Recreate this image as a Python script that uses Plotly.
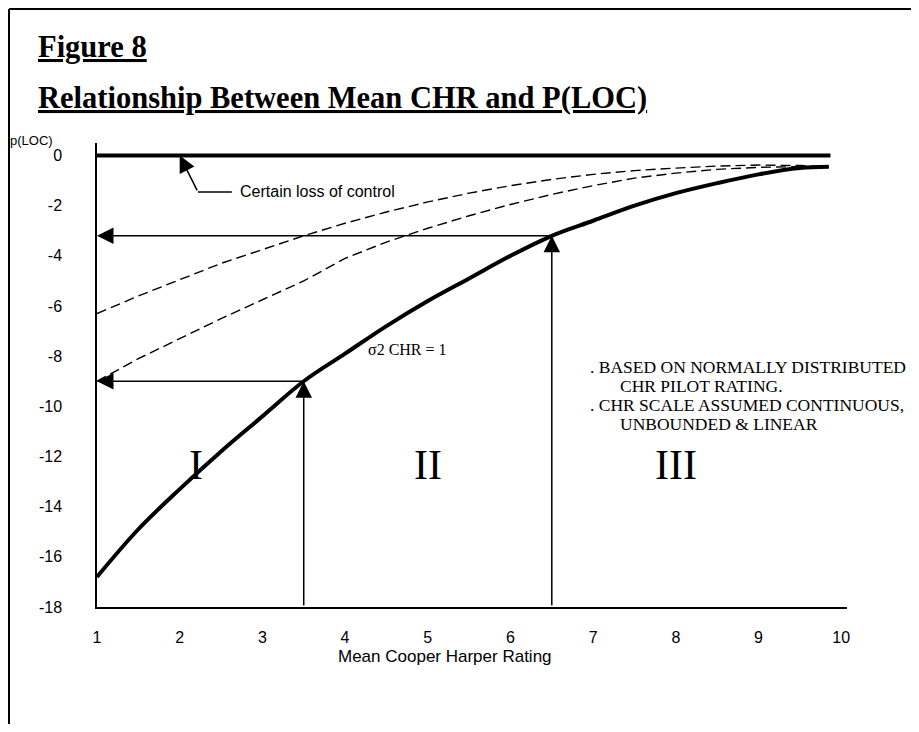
import plotly.graph_objects as go

# ---------------- data ----------------
chr_mean = [1.0, 1.5, 2.0, 2.5, 3.0, 3.5, 4.0, 4.5, 5.0, 5.5, 6.0, 6.5, 7.0, 7.5, 8.0, 8.5, 9.0, 9.5, 9.85]
p_loc_sigma1 = [-16.8, -14.9, -13.3, -11.8, -10.4, -9.0, -7.9, -6.8, -5.8, -4.9, -4.0, -3.2,
                -2.6, -2.0, -1.5, -1.1, -0.75, -0.5, -0.45]
p_loc_dash_upper = [-6.3, -5.6, -4.95, -4.3, -3.75, -3.2, -2.7, -2.25, -1.85, -1.5, -1.2, -0.95,
                    -0.75, -0.6, -0.5, -0.42, -0.38, -0.4, -0.45]
p_loc_dash_lower = [-9.0, -8.1, -7.3, -6.5, -5.75, -5.0, -4.1, -3.45, -2.9, -2.4, -1.95, -1.55,
                    -1.2, -0.9, -0.7, -0.55, -0.47, -0.44, -0.45]
certain_loss_x = [1.0, 9.87]
certain_loss_y = [0.0, 0.0]

boundary_chr = [3.5, 6.5]          # region boundaries
boundary_ploc = [-9.0, -3.2]       # p(LOC) at the boundaries
region_labels = ["I", "II", "III"]
region_label_x = [2.2, 5.0, 8.0]
region_label_y = -12.35

x_ticks = [1, 2, 3, 4, 5, 6, 7, 8, 9, 10]
y_ticks = [0, -2, -4, -6, -8, -10, -12, -14, -16, -18]
y_tick_labels = ["0", "-2", "-4", "-6", "-8", "-10", "-12", "-14", "-16", "-18"]

notes = [". BASED ON NORMALLY DISTRIBUTED", "CHR PILOT RATING.",
         ". CHR SCALE ASSUMED CONTINUOUS,", "UNBOUNDED & LINEAR"]

# ---------------- figure ----------------
OFF = 8                      # page body margin
W, H = 919 - OFF, 732 - 2 * OFF
L, R, T, B = 97 - OFF, 72, 143 - OFF, 125 - OFF
PW, PH = W - L - R, H - T - B

SANS = "Liberation Sans, Arial"
SERIF = "Liberation Serif, Times New Roman"


def px(xp):
    return (xp - OFF - L) / PW


def py(yp):
    return (OFF + T + PH - yp) / PH


fig = go.Figure()

fig.add_trace(go.Scatter(x=certain_loss_x, y=certain_loss_y, mode="lines",
                         line=dict(color="black", width=4), showlegend=False, hoverinfo="skip"))
fig.add_trace(go.Scatter(x=chr_mean, y=p_loc_dash_upper, mode="lines",
                         line=dict(color="black", width=1.4, dash="10px,5px"),
                         showlegend=False, hoverinfo="skip"))
fig.add_trace(go.Scatter(x=chr_mean, y=p_loc_dash_lower, mode="lines",
                         line=dict(color="black", width=1.4, dash="10px,5px"),
                         showlegend=False, hoverinfo="skip"))
fig.add_trace(go.Scatter(x=chr_mean, y=p_loc_sigma1, mode="lines", line_shape="spline",
                         line=dict(color="black", width=4), showlegend=False, hoverinfo="skip"))

ann = []
arrow_style = dict(showarrow=True, arrowhead=2, arrowsize=2.2, arrowwidth=1.5,
                   arrowcolor="black", text="", xref="x", yref="y", axref="x", ayref="y",
                   standoff=0)
for bx, by in zip(boundary_chr, boundary_ploc):
    ann.append(dict(x=bx, y=by, ax=bx, ay=-18, **arrow_style))
    ann.append(dict(x=1.0, y=by, ax=bx, ay=by, **arrow_style))

# "Certain loss of control" leader
ann.append(dict(x=2.0, y=0, ax=2.22, ay=-1.45, **arrow_style))
fig.add_shape(type="line", x0=2.22, y0=-1.45, x1=2.63, y1=-1.45, xref="x", yref="y",
              line=dict(color="black", width=1.5))
ann.append(dict(x=2.7, y=-1.45, xref="x", yref="y", text="Certain loss of control",
                showarrow=False, xanchor="left", yanchor="middle",
                font=dict(family=SANS, size=16, color="black")))

ann.append(dict(x=4.25, y=-7.75, xref="x", yref="y", text="σ2 CHR = 1",
                showarrow=False, xanchor="left", yanchor="middle",
                font=dict(family=SERIF, size=16, color="black")))

for lab, lx in zip(region_labels, region_label_x):
    ann.append(dict(x=lx, y=region_label_y, xref="x", yref="y", text=lab, showarrow=False,
                    xanchor="center", yanchor="middle",
                    font=dict(family=SERIF, size=42, color="black")))

note_x = [588, 618, 588, 618]
note_y = [367, 386, 405, 424]
for t, nx, ny in zip(notes, note_x, note_y):
    ann.append(dict(x=px(nx), y=py(ny), xref="paper", yref="paper", text=t, showarrow=False,
                    xanchor="left", yanchor="middle",
                    font=dict(family=SERIF, size=17.5, color="black")))

# titles
ann.append(dict(x=px(36), y=py(47), xref="paper", yref="paper", text="<b><u>Figure 8</u></b>",
                showarrow=False, xanchor="left", yanchor="middle",
                font=dict(family=SERIF, size=30.5, color="black")))
ann.append(dict(x=px(36), y=py(98), xref="paper", yref="paper",
                text="<b><u>Relationship Between Mean CHR and P(LOC)</u></b>",
                showarrow=False, xanchor="left", yanchor="middle",
                font=dict(family=SERIF, size=30.5, color="black")))
ann.append(dict(x=px(31), y=py(140), xref="paper", yref="paper", text="p(LOC)",
                showarrow=False, xanchor="center", yanchor="middle",
                font=dict(family=SANS, size=13, color="black")))
ann.append(dict(x=px(445), y=py(656), xref="paper", yref="paper", text="Mean Cooper Harper Rating",
                showarrow=False, xanchor="center", yanchor="middle",
                font=dict(family=SANS, size=17, color="black")))

# page frame (top, left, right edges; bottom lies below the page)
fx0, fx1, fy0, fy1 = px(9), px(913), py(740), py(9)
frame = dict(type="line", xref="paper", yref="paper", line=dict(color="black", width=2))
fig.add_shape(x0=fx0, x1=fx1, y0=fy1, y1=fy1, **frame)
fig.add_shape(x0=fx0, x1=fx0, y0=fy0, y1=fy1, **frame)
fig.add_shape(x0=fx1, x1=fx1, y0=fy0, y1=fy1, **frame)

fig.update_layout(
    width=W, height=H, autosize=False,
    margin=dict(l=L, r=R, t=T, b=B),
    paper_bgcolor="white", plot_bgcolor="white",
    annotations=ann,
    xaxis=dict(range=[1, 10.07], tickvals=x_ticks, showgrid=False, zeroline=False,
               showline=True, linecolor="black", linewidth=1.5, ticks="",
               ticklabelstandoff=15,
               tickfont=dict(family=SANS, size=16, color="black")),
    yaxis=dict(range=[-18, 0.5], tickvals=y_ticks, ticktext=y_tick_labels, showgrid=False,
               zeroline=False, showline=True, linecolor="black", linewidth=1.5, ticks="",
               ticklabelstandoff=30,
               tickfont=dict(family=SANS, size=16, color="black")),
)

fig.write_html("out.html")
